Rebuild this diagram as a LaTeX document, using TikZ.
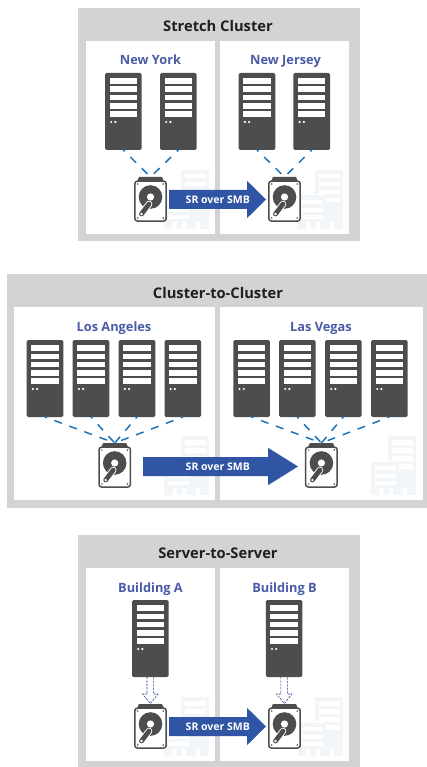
\documentclass[tikz,border=0pt]{standalone}
\usepackage{fontspec}
\setmainfont{Open Sans}
\usetikzlibrary{calc}
\definecolor{panelgrey}{HTML}{D1D3D4}
\definecolor{iron}{HTML}{4D4D4D}
\definecolor{labelblue}{HTML}{4A5BA8}
\definecolor{arrowblue}{HTML}{2F55A4}
\definecolor{linkblue}{HTML}{1B75BC}
\definecolor{darklink}{HTML}{2E3F9E}
\definecolor{paleb}{HTML}{F3F6F8}
\tikzset{
  x=1pt,y=-1pt,
  panel/.style={fill=panelgrey,draw=none},
  pane/.style={fill=white,draw=none},
  titletext/.style={font=\fontsize{14.7}{16}\selectfont\bfseries,text=black!88,inner sep=0,anchor=base},
  sitetext/.style={font=\fontsize{12.8}{14}\selectfont\bfseries,text=labelblue,inner sep=0,anchor=base},
  arrowtext/.style={font=\fontsize{10.5}{12}\selectfont\bfseries,text=white,inner sep=0,anchor=base},
  srvbox/.style={fill=iron,draw=none,rounded corners=1.5pt,minimum width=36.6,minimum height=77,inner sep=0,outer sep=0},
  diskbox/.style={draw=none,minimum width=33,minimum height=45,inner sep=0,outer sep=0},
  link/.style={draw=linkblue,line width=1.5pt,dash pattern=on 8pt off 8pt,dash phase=6pt},
  dbllink/.style={draw=darklink,line width=.6pt,dash pattern=on 2.2pt off 1.2pt},
  flow/.style={fill=arrowblue,draw=none},
}
% \srv{name}{left x}{top y}
\newcommand{\srv}[3]{%
  \node[srvbox,anchor=north west] (#1) at (#2,#3) {};
  \foreach \k in {0,...,4}{\fill[white] (#2+4.6,#3+5.3+8.2*\k) rectangle (#2+32,#3+11+8.2*\k);}
  \fill[white] (#2+6.2,#3+49) circle (1.2) (#2+10.4,#3+49) circle (1.2);
}
% \dsk{name}{centre x}{top y}
\newcommand{\dsk}[3]{%
  \node[diskbox,anchor=north] (#1) at (#2,#3) {};
  \fill[iron] (#2-13.5,#3+4.5) -- (#2-11.5,#3) -- (#2+11.5,#3) -- (#2+13.5,#3+4.5) -- cycle;
  \draw[iron,fill=white,line width=1.5pt,rounded corners=2.5pt] (#2-15.7,#3+4.2) rectangle (#2+15.7,#3+44);
  \fill[iron] (#2,#3+20) circle (11.8);
  \fill[white] (#2,#3+20) circle (3.6);
  \draw[white,line width=6.6pt,line cap=round] (#2-1.5,#3+27) -- (#2-9,#3+37);
  \draw[iron,line width=4.8pt,line cap=round] (#2-1.5,#3+27) -- (#2-9,#3+37);
  \fill[white] (#2-9,#3+37) circle (1.3);
  \fill[iron] (#2-12.8,#3+7) circle (.85) (#2+12.8,#3+7) circle (.85) (#2-12.8,#3+41) circle (.85) (#2+12.8,#3+41) circle (.85);
}
% \blds{tall left x}{top y}
\newcommand{\blds}[2]{%
  \fill[paleb] (#1,#2) rectangle (#1+28,#2+59);
  \foreach \k in {0,...,3}{\fill[white] (#1+3.5,#2+4+8*\k) rectangle (#1+24.5,#2+8.5+8*\k);}
  \fill[white] (#1-18.5,#2+24) rectangle (#1+11,#2+59);
  \fill[paleb] (#1-17,#2+25.5) rectangle (#1+11,#2+59);
  \foreach \k in {0,1,2}{\fill[white] (#1-13.5,#2+30+7.7*\k) rectangle (#1+7.5,#2+34+7.7*\k);}
  \fill[white] (#1-8.5,#2+52) rectangle (#1-4.5,#2+59) (#1+1,#2+52) rectangle (#1+5,#2+59);
  \fill[white] (#1+15,#2+52) rectangle (#1+19,#2+59);
}
% \flowarrow{name}{left}{shaft end}{tip}{centre y}
\newcommand{\flowarrow}[5]{%
  \fill[flow] (#2,#5-9.5) -- (#3,#5-9.5) -- (#3,#5-18.7) -- (#4,#5) -- (#3,#5+18.7) -- (#3,#5+9.5) -- (#2,#5+9.5) -- cycle;
  \node[arrowtext] (#1) at (217.8,#5+3.6) {SR over SMB};
}
% \dbl{from}{to}
\newcommand{\dbl}[2]{%
  \draw[dbllink] ($(#1.south)+(-3.3,0)$) -- ++(0,17) -- ++(-4.4,0) -- ($(#2.north)+(0,-.5)$) -- ($(#1.south)+(7.7,17)$) -- ++(-4.4,0) -- ($(#1.south)+(3.3,0)$);
}
\begin{document}
\begin{tikzpicture}
\useasboundingbox (0,0) rectangle (427,767);
\fill[white] (0,0) rectangle (427,767);

% ---- Stretch Cluster
\fill[panel] (78,8) rectangle (360,241);
\fill[pane] (86,41) rectangle (215,234);
\fill[pane] (220,41) rectangle (349,234);
\blds{181}{170}
\blds{315}{170}
\node[titletext] (t1) at (218,31.5) {Stretch Cluster};
\node[sitetext] (ny) at (150.5,64.5) {New York};
\node[sitetext] (nj) at (285.5,64.5) {New Jersey};
\srv{a1}{105}{73}
\srv{a2}{160}{73}
\srv{a3}{238.7}{73}
\srv{a4}{293.4}{73}
\dsk{da}{150.5}{177}
\dsk{db}{284.5}{177}
\foreach \s in {a1,a2}{\draw[link] (\s.south) -- (da.north);}
\foreach \s in {a3,a4}{\draw[link] (\s.south) -- (db.north);}
\flowarrow{fa}{169}{247}{266}{199.5}

% ---- Cluster-to-Cluster
\fill[panel] (7,274) rectangle (427,508);
\fill[pane] (14,307) rectangle (215,500);
\fill[pane] (220,307) rectangle (423,500);
\blds{181}{436}
\blds{388}{436}
\node[titletext] (t2) at (218,298) {Cluster-to-Cluster};
\node[sitetext] (la) at (114,331) {Los Angeles};
\node[sitetext] (lv) at (321,331) {Las Vegas};
\srv{b1}{26.7}{340}
\srv{b2}{72.7}{340}
\srv{b3}{118.7}{340}
\srv{b4}{164.5}{340}
\srv{b5}{233.3}{340}
\srv{b6}{279}{340}
\srv{b7}{325}{340}
\srv{b8}{371}{340}
\dsk{dc}{114.7}{443}
\dsk{dd}{321.4}{443}
\foreach \s in {b1,b2,b3,b4}{\draw[link] (\s.south) -- (dc.north);}
\foreach \s in {b5,b6,b7,b8}{\draw[link] (\s.south) -- (dd.north);}
\flowarrow{fb}{143}{268}{298}{466.5}

% ---- Server-to-Server
\fill[panel] (78,535) rectangle (360,767);
\fill[pane] (86,568) rectangle (215,761);
\fill[pane] (220,568) rectangle (349,761);
\blds{181}{697}
\blds{315}{697}
\node[titletext] (t3) at (218,558.5) {Server-to-Server};
\node[sitetext] (ba) at (150.5,592) {Building A};
\node[sitetext] (bb) at (284.5,592) {Building B};
\srv{c1}{132}{600}
\srv{c2}{265.8}{600}
\dsk{de}{150.5}{704}
\dsk{df}{284.5}{704}
\dbl{c1}{de}
\dbl{c2}{df}
\flowarrow{fc}{169}{247}{266}{726.5}
\end{tikzpicture}
\end{document}
